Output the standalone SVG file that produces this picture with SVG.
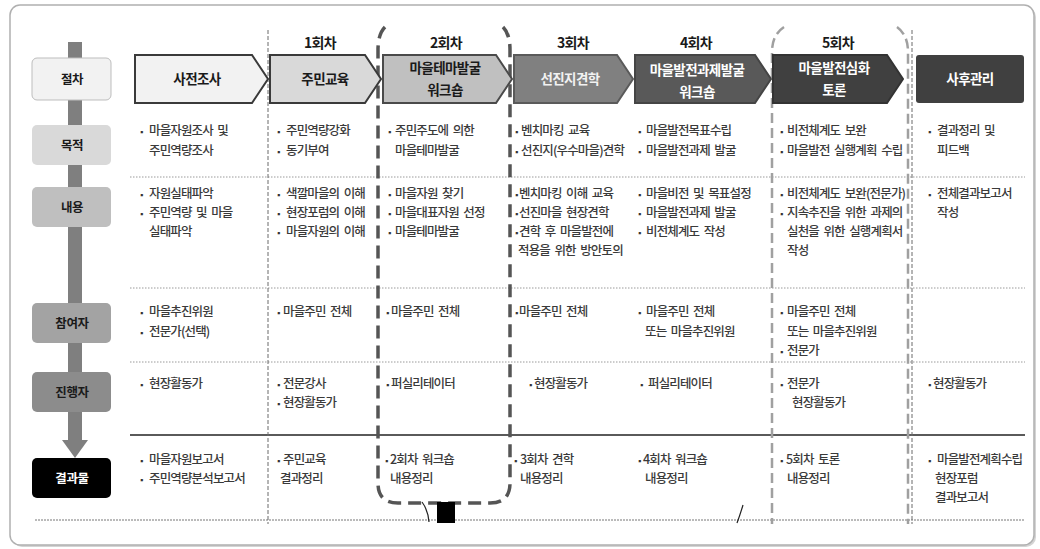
<svg xmlns="http://www.w3.org/2000/svg" width="1040" height="549" viewBox="0 0 1040 549">
<defs>
<style>
text{font-family:"Noto Sans CJK KR","Noto Sans",sans-serif}
.t{font-size:12.5px;font-weight:500;fill:#3a3a3a;letter-spacing:-0.85px;word-spacing:2.5px}
.b{font-family:"Liberation Sans",sans-serif;font-size:9px;fill:#333;letter-spacing:0}
.h{font-size:14px;font-weight:bold;fill:#1a1a1a;text-anchor:middle;letter-spacing:-0.6px}
.c{font-size:13.5px;font-weight:bold;text-anchor:middle;letter-spacing:-0.6px}
.lb{font-size:12.5px;font-weight:bold;text-anchor:middle;fill:#1a1a1a;letter-spacing:-0.4px}
.dot{stroke:#9a9a9a;stroke-width:1;stroke-dasharray:1.5 1.5;fill:none}
.vd{stroke:#6a6a6a;stroke-width:1;stroke-dasharray:4 2;fill:none}
.box{stroke:#bdbdbd;stroke-width:1}
</style>
</defs>
<rect x="0" y="0" width="1040" height="549" fill="#ffffff"/>
<rect x="12" y="7" width="1024" height="540" rx="10" fill="#d4d4d4"/>
<rect x="10" y="5" width="1024" height="540" rx="10" fill="#ffffff" stroke="#b0b0b0" stroke-width="1.5"/>

<g id="connectors">
  <rect x="68" y="42" width="14" height="399" fill="#7f7f7f"/>
  <polygon points="62,440 88,440 75,458" fill="#7f7f7f"/>
  <line class="dot" x1="130" y1="177" x2="1025" y2="177"/>
  <line class="dot" x1="130" y1="288" x2="1025" y2="288"/>
  <line class="dot" x1="130" y1="362" x2="1025" y2="362"/>
  <line x1="130" y1="435" x2="1025" y2="435" stroke="#5a5a5a" stroke-width="2"/>
  <line x1="35" y1="520" x2="1025" y2="520" stroke="#777" stroke-width="1" stroke-dasharray="2 1"/>
  <line class="vd" x1="268" y1="30" x2="268" y2="524"/>
  <line class="vd" x1="912" y1="30" x2="912" y2="524"/>
  <path d="M385,27 Q378,34 378,50 V483 Q378,503 398,503 H490 Q510,503 510,483 V50 Q510,34 503,27" fill="none" stroke="#555" stroke-width="3.5" stroke-dasharray="13 7"/>
  <path d="M784,27 Q772,35 772,52 V524" fill="none" stroke="#a0a0a0" stroke-width="2.5" stroke-dasharray="10 5"/>
  <path d="M897,27 Q908,35 908,52 V524" fill="none" stroke="#a0a0a0" stroke-width="2.5" stroke-dasharray="10 5"/>
  <rect x="437" y="502" width="18" height="21" fill="#000"/>
  <path d="M422,502 Q428,510 429,522" fill="none" stroke="#222" stroke-width="1.2"/>
  <path d="M743,505 Q740,515 737,523" fill="none" stroke="#222" stroke-width="1.2"/>
</g>

<g id="label-jeolcha"><rect class="box" x="32" y="58" width="79" height="42" rx="5" fill="#f2f2f2"/><text class="lb" x="72" y="84">절차</text></g>
<g id="label-mokjeok"><rect x="32" y="125" width="79" height="40" rx="5" fill="#d9d9d9"/><text class="lb" x="72" y="150">목적</text></g>
<g id="label-naeyong"><rect x="32" y="187" width="79" height="40" rx="5" fill="#bfbfbf"/><text class="lb" x="72" y="212">내용</text></g>
<g id="label-chamyeoja"><rect x="32" y="303" width="79" height="40" rx="5" fill="#a3a3a3"/><text class="lb" x="72" y="328">참여자</text></g>
<g id="label-jinhaengja"><rect x="32" y="372" width="79" height="40" rx="5" fill="#8c8c8c"/><text class="lb" x="72" y="397">진행자</text></g>
<g id="label-gyeolgwamul"><rect x="32" y="458" width="79" height="40" rx="5" fill="#000"/><text class="lb" x="72" y="483" style="fill:#fff">결과물</text></g>

<g id="headers">
  <text class="h" x="320" y="48">1회차</text>
  <text class="h" x="446" y="48">2회차</text>
  <text class="h" x="573" y="48">3회차</text>
  <text class="h" x="696" y="48">4회차</text>
  <text class="h" x="838" y="48">5회차</text>
</g>

<g id="step-0"><path d="M135,55 H252 L268,79 L252,103 H135 Z" fill="#f2f2f2" stroke="#3a3a3a" stroke-width="2"/><text class="c" x="197" y="84" fill="#1a1a1a">사전조사</text></g>
<g id="step-1"><path d="M270,55 H365 L381,79 L365,103 H270 Z" fill="#d9d9d9" stroke="#3a3a3a" stroke-width="2"/><text class="c" x="325" y="84" fill="#1a1a1a">주민교육</text></g>
<g id="step-2"><path d="M383,55 H496 L512,79 L496,103 H383 Z" fill="#c0c0c0" stroke="#4a4a4a" stroke-width="2"/><text class="c" x="445" y="73" fill="#1a1a1a">마을테마발굴</text><text class="c" x="445" y="95" fill="#1a1a1a">워크숍</text></g>
<g id="step-3"><path d="M514,55 H617 L633,79 L617,103 H514 Z" fill="#808080" stroke="#5a5a5a" stroke-width="2"/><text class="c" x="570" y="84" fill="#f2f2f2">선진지견학</text></g>
<g id="step-4"><path d="M635,55 H755 L771,79 L755,103 H635 Z" fill="#595959" stroke="#454545" stroke-width="2"/><text class="c" x="697" y="75" fill="#fff">마을발전과제발굴</text><text class="c" x="697" y="97" fill="#fff">워크숍</text></g>
<g id="step-5"><path d="M773,55 H887 L903,79 L887,103 H773 Z" fill="#404040" stroke="#333" stroke-width="2"/><text class="c" x="834" y="73" fill="#fff">마을발전심화</text><text class="c" x="834" y="95" fill="#fff">토론</text></g>
<g id="step-6"><rect x="916" y="55" width="108" height="48" rx="3" fill="#404040"/><text class="c" x="970" y="84" fill="#fff">사후관리</text></g>

<g id="col-0" class="t">
  <text y="135"><tspan class="b" x="140">▪</tspan><tspan x="149">마을자원조사 및</tspan></text>
  <text x="149" y="155">주민역량조사</text>
  <text y="198"><tspan class="b" x="140">▪</tspan><tspan x="149">자원실태파악</tspan></text>
  <text y="217"><tspan class="b" x="140">▪</tspan><tspan x="149">주민역량 및 마을</tspan></text>
  <text x="149" y="236">실태파악</text>
  <text y="316"><tspan class="b" x="140">▪</tspan><tspan x="149">마을추진위원</tspan></text>
  <text y="336"><tspan class="b" x="140">▪</tspan><tspan x="149">전문가(선택)</tspan></text>
  <text y="388"><tspan class="b" x="140">▪</tspan><tspan x="149">현장활동가</tspan></text>
  <text y="464"><tspan class="b" x="140">▪</tspan><tspan x="149">마을자원보고서</tspan></text>
  <text y="483"><tspan class="b" x="140">▪</tspan><tspan x="149">주민역량분석보고서</tspan></text>
</g>

<g id="col-1" class="t">
  <text y="135"><tspan class="b" x="277">▪</tspan><tspan x="286">주민역량강화</tspan></text>
  <text y="155"><tspan class="b" x="277">▪</tspan><tspan x="286">동기부여</tspan></text>
  <text y="198"><tspan class="b" x="277">▪</tspan><tspan x="286">색깔마을의 이해</tspan></text>
  <text y="217"><tspan class="b" x="277">▪</tspan><tspan x="286">현장포럼의 이해</tspan></text>
  <text y="236"><tspan class="b" x="277">▪</tspan><tspan x="286">마을자원의 이해</tspan></text>
  <text y="316"><tspan class="b" x="277">▪</tspan><tspan x="283">마을주민 전체</tspan></text>
  <text y="388"><tspan class="b" x="277">▪</tspan><tspan x="283">전문강사</tspan></text>
  <text y="407"><tspan class="b" x="277">▪</tspan><tspan x="283">현장활동가</tspan></text>
  <text y="464"><tspan class="b" x="277">▪</tspan><tspan x="283">주민교육</tspan></text>
  <text x="280" y="483">결과정리</text>
</g>

<g id="col-2" class="t">
  <text y="135"><tspan class="b" x="388">▪</tspan><tspan x="395">주민주도에 의한</tspan></text>
  <text x="395" y="155">마을테마발굴</text>
  <text y="198"><tspan class="b" x="388">▪</tspan><tspan x="395">마을자원 찾기</tspan></text>
  <text y="217"><tspan class="b" x="388">▪</tspan><tspan x="395">마을대표자원 선정</tspan></text>
  <text y="236"><tspan class="b" x="388">▪</tspan><tspan x="395">마을테마발굴</tspan></text>
  <text y="316"><tspan class="b" x="386">▪</tspan><tspan x="391">마을주민 전체</tspan></text>
  <text y="388"><tspan class="b" x="386">▪</tspan><tspan x="391">퍼실리테이터</tspan></text>
  <text y="464"><tspan class="b" x="385">▪</tspan><tspan x="390">2회차 워크숍</tspan></text>
  <text x="390" y="483">내용정리</text>
</g>

<g id="col-3" class="t">
  <text y="135"><tspan class="b" x="515">▪</tspan><tspan x="521">벤치마킹 교육</tspan></text>
  <text y="155"><tspan class="b" x="515">▪</tspan><tspan x="521">선진지(우수마을)견학</tspan></text>
  <text y="198"><tspan class="b" x="515">▪</tspan><tspan x="519">벤치마킹 이해 교육</tspan></text>
  <text y="217"><tspan class="b" x="515">▪</tspan><tspan x="519">선진마을 현장견학</tspan></text>
  <text y="236"><tspan class="b" x="515">▪</tspan><tspan x="519">견학 후 마을발전에</tspan></text>
  <text x="518" y="255">적용을 위한 방안토의</text>
  <text y="316"><tspan class="b" x="515">▪</tspan><tspan x="519">마을주민 전체</tspan></text>
  <text y="388"><tspan class="b" x="529">▪</tspan><tspan x="534">현장활동가</tspan></text>
  <text y="464"><tspan class="b" x="514">▪</tspan><tspan x="520">3회차 견학</tspan></text>
  <text x="520" y="483">내용정리</text>
</g>

<g id="col-4" class="t">
  <text y="135"><tspan class="b" x="638">▪</tspan><tspan x="646">마을발전목표수립</tspan></text>
  <text y="155"><tspan class="b" x="638">▪</tspan><tspan x="646">마을발전과제 발굴</tspan></text>
  <text y="198"><tspan class="b" x="638">▪</tspan><tspan x="646">마을비전 및 목표설정</tspan></text>
  <text y="217"><tspan class="b" x="638">▪</tspan><tspan x="646">마을발전과제 발굴</tspan></text>
  <text y="236"><tspan class="b" x="638">▪</tspan><tspan x="646">비전체계도 작성</tspan></text>
  <text y="316"><tspan class="b" x="638">▪</tspan><tspan x="646">마을주민 전체</tspan></text>
  <text x="645" y="336">또는 마을추진위원</text>
  <text y="388"><tspan class="b" x="640">▪</tspan><tspan x="648">퍼실리테이터</tspan></text>
  <text y="464"><tspan class="b" x="638">▪</tspan><tspan x="643">4회차 워크숍</tspan></text>
  <text x="645" y="483">내용정리</text>
</g>

<g id="col-5" class="t">
  <text y="135"><tspan class="b" x="780">▪</tspan><tspan x="787">비전체계도 보완</tspan></text>
  <text y="155"><tspan class="b" x="780">▪</tspan><tspan x="787">마을발전 실행계획 수립</tspan></text>
  <text y="198"><tspan class="b" x="780">▪</tspan><tspan x="787">비전체계도 보완(전문가)</tspan></text>
  <text y="217"><tspan class="b" x="780">▪</tspan><tspan x="787">지속추진을 위한 과제의</tspan></text>
  <text x="787" y="236">실천을 위한 실행계획서</text>
  <text x="787" y="255">작성</text>
  <text y="316"><tspan class="b" x="780">▪</tspan><tspan x="787">마을주민 전체</tspan></text>
  <text x="787" y="336">또는 마을추진위원</text>
  <text y="355"><tspan class="b" x="780">▪</tspan><tspan x="787">전문가</tspan></text>
  <text y="388"><tspan class="b" x="780">▪</tspan><tspan x="787">전문가</tspan></text>
  <text x="792" y="407">현장활동가</text>
  <text y="464"><tspan class="b" x="780">▪</tspan><tspan x="786">5회차 토론</tspan></text>
  <text x="787" y="483">내용정리</text>
</g>

<g id="col-6" class="t">
  <text y="135"><tspan class="b" x="928">▪</tspan><tspan x="937">결과정리 및</tspan></text>
  <text x="937" y="155">피드백</text>
  <text y="198"><tspan class="b" x="928">▪</tspan><tspan x="937">전체결과보고서</tspan></text>
  <text x="937" y="217">작성</text>
  <text y="388"><tspan class="b" x="928">▪</tspan><tspan x="933">현장활동가</tspan></text>
  <text y="464"><tspan class="b" x="928">▪</tspan><tspan x="937">마을발전계획수립</tspan></text>
  <text x="935" y="483">현장포럼</text>
  <text x="935" y="502">결과보고서</text>
</g>
</svg>
